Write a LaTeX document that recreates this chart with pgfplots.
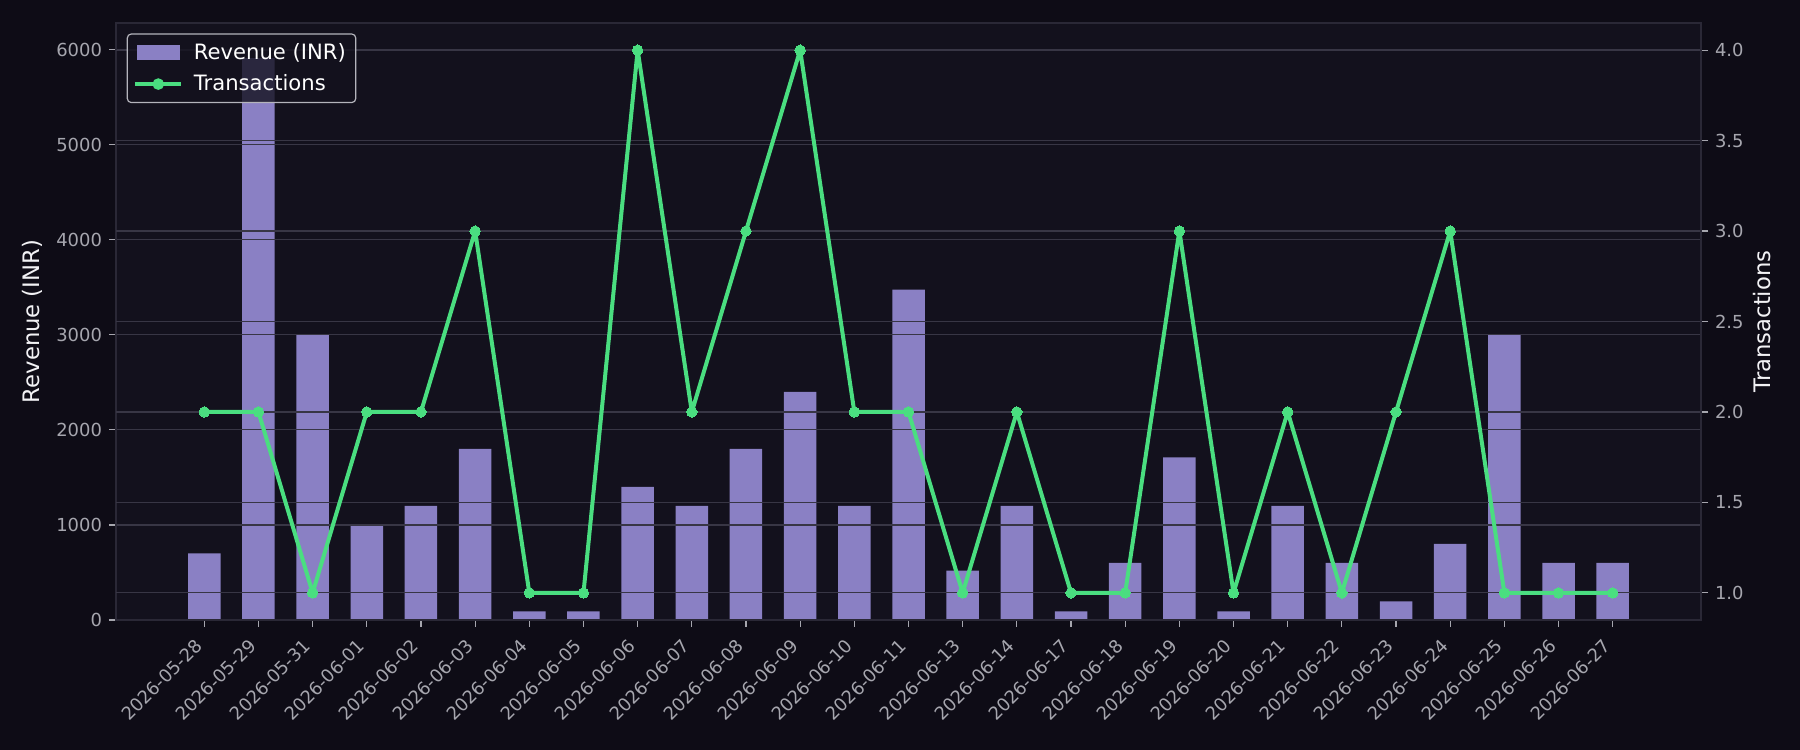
\documentclass[border=0pt]{standalone}
\usepackage{fontspec}
\setmainfont{DejaVu Sans}
\usepackage{pgfplots}
\pgfplotsset{compat=1.18}
\usepackage{pgfplotstable}

\definecolor{figbg}{HTML}{0E0C16}
\definecolor{axbg}{HTML}{13111D}
\definecolor{gridc}{HTML}{383645}
\definecolor{spine}{HTML}{2A2836}
\definecolor{tickc}{HTML}{A6A6AE}
\definecolor{labc}{HTML}{F2F2F5}
\definecolor{barc}{HTML}{8A80C4}
\definecolor{greenc}{HTML}{4ADE80}
\definecolor{legc}{HTML}{B4B4BC}

\pgfplotstableread{
x rev tx
0 700 2
1 5910 2
2 3000 1
3 1000 2
4 1200 2
5 1800 3
6 90 1
7 90 1
8 1400 4
9 1200 2
10 1800 3
11 2400 4
12 1200 2
13 3475 2
14 520 1
15 1200 2
16 90 1
17 600 1
18 1710 3
19 90 1
20 1200 2
21 600 1
22 195 2
23 800 3
24 3000 1
25 600 1
26 600 1
}\data

\pgfplotsset{common/.style={
  at={(58bp,65bp)}, anchor=south west,
  width=792.5bp, height=298.5bp, scale only axis,
  xmin=-1.63, xmax=27.63,
  tick align=outside, major tick length=3.5bp,
  every tick/.style={tickc, line width=0.6bp},
  tick label style={font=\fontsize{9}{10}\selectfont, text=tickc},
  label style={font=\fontsize{11.4}{13}\selectfont, text=labc},
  /pgf/number format/assume math mode=true,
  grid style={gridc, line width=0.6bp},
  axis line style={spine, line width=0.6bp},
}}

\begin{document}
\begin{tikzpicture}
\fill[figbg] (0,0) rectangle (900bp,375bp);
\useasboundingbox (0,0) rectangle (900bp,375bp);

\begin{axis}[common,
  axis background/.style={fill=axbg},
  ymin=0, ymax=6280, ytick={0,1000,2000,3000,4000,5000,6000},
  ytick pos=left, xtick pos=bottom, ymajorgrids, axis on top,
  xtick={0,...,26},
  xticklabels={2026-05-28,2026-05-29,2026-05-31,2026-06-01,2026-06-02,2026-06-03,2026-06-04,2026-06-05,2026-06-06,2026-06-07,2026-06-08,2026-06-09,2026-06-10,2026-06-11,2026-06-13,2026-06-14,2026-06-17,2026-06-18,2026-06-19,2026-06-20,2026-06-21,2026-06-22,2026-06-23,2026-06-24,2026-06-25,2026-06-26,2026-06-27},
  xticklabel style={xshift=-5.2bp, yshift=-2.5bp, rotate=45, anchor=north east, inner sep=2bp},
  yticklabel style={/pgf/number format/1000 sep={}},
  ylabel={Revenue (INR)},
  ylabel style={at={(axis description cs:-0.053,0.5)}, anchor=center},
]
\addplot[ybar, bar width=0.6, fill=barc, draw=none] table[x=x,y=rev]{\data};
\end{axis}

\begin{axis}[common,
  axis y line*=right, axis x line=none,
  ymin=0.85, ymax=4.15, ytick={1,1.5,2,2.5,3,3.5,4},
  ymajorgrids,
  yticklabel style={/pgf/number format/.cd, fixed, fixed zerofill, precision=1},
  ylabel={Transactions},
  ylabel style={at={(axis description cs:1.0385,0.5)}, anchor=center},
  legend style={at={(0,1)}, anchor=north west, xshift=5.35bp, yshift=-5.2bp,
    fill=axbg, fill opacity=0.8, draw opacity=1, text opacity=1,
    draw=legc, line width=0.6bp, rounded corners=2bp,
    text=white, font=\fontsize{10.6}{12.5}\selectfont,
    inner xsep=3bp, inner ysep=2.5bp, row sep=2.3bp,
    cells={anchor=west}},
]
\addlegendimage{legend image code/.code={\fill[barc, fill opacity=1, sharp corners] (1bp,-3.35bp) rectangle (22bp,3.35bp); \path (27bp,0bp);}}
\addlegendentry{Revenue (INR)}
\addlegendimage{legend image code/.code={\draw[greenc, line width=2bp, fill opacity=1, draw opacity=1, sharp corners] (0bp,0bp) -- (23bp,0bp); \fill[greenc, fill opacity=1] (11.5bp,0bp) circle (2.6bp); \path (27bp,0bp);}}
\addlegendentry{Transactions}
\addplot[greenc, line width=2bp, line join=round, mark=*, mark size=2.6bp,
  mark options={fill=greenc, draw=greenc, line width=0bp}, forget plot]
  table[x=x,y=tx]{\data};
\end{axis}
\end{tikzpicture}
\end{document}
